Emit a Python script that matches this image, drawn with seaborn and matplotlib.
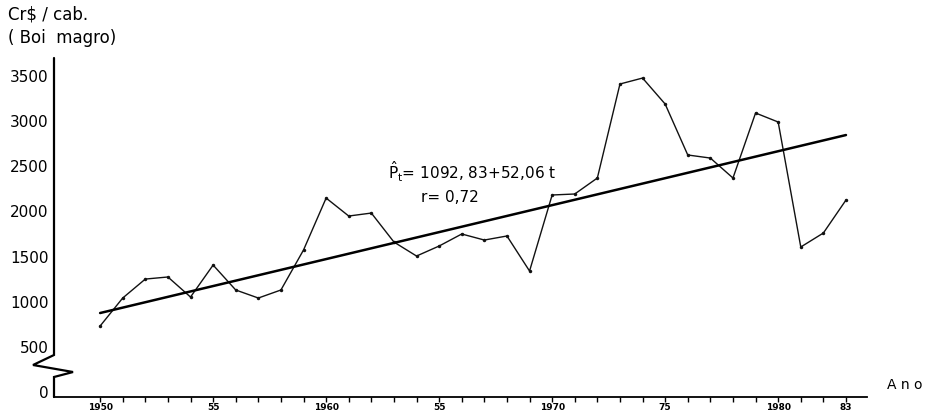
import numpy as np
import pandas as pd
import matplotlib
matplotlib.use("Agg")
import matplotlib.pyplot as plt
import seaborn as sns

# ---- data ----
years = list(range(1950, 1984))
prices = [731, 1041, 1251, 1274, 1052, 1406, 1130, 1041, 1130, 1573,
          2148, 1949, 1982, 1661, 1506, 1617, 1750, 1683, 1728, 1340,
          2182, 2193, 2370, 3411, 3477, 3189, 2625, 2591, 2370, 3090,
          2990, 1606, 1761, 2126]
trend_years = [1950, 1983]
trend_values = [875, 2846]
ytick_values = [0, 500, 1000, 1500, 2000, 2500, 3000, 3500]
xtick_years = [1950, 1955, 1960, 1965, 1970, 1975, 1980, 1983]
xtick_labels = ["1950", "55", "1960", "55", "1970", "75", "1980", "83"]

df = pd.DataFrame({"ano": years, "preco": prices})
trend = pd.DataFrame({"ano": trend_years, "preco": trend_values})

sns.set_theme(style="white")
plt.rcParams["font.family"] = ["DejaVu Sans"]
plt.rcParams["mathtext.fontset"] = "dejavusans"
plt.rcParams["text.color"] = "black"
plt.rcParams["xtick.color"] = "black"
plt.rcParams["ytick.color"] = "black"

W, H = 930, 413
fig = plt.figure(figsize=(W / 100, H / 100), dpi=100)
ax = fig.add_axes([54 / W, (H - 397) / H, 813 / W, 339 / H])

sns.lineplot(data=df, x="ano", y="preco", ax=ax, color="#111111", linewidth=1.0,
             marker="o", markersize=2.5, markeredgewidth=0, legend=False)
sns.lineplot(data=trend, x="ano", y="preco", ax=ax, color="black", linewidth=1.8,
             legend=False)

ax.set_xlim(1947.96, 1983.93)
ax.set_ylim(-55, 3699)

ax.set_yticks(ytick_values)
ax.set_yticklabels([str(v) for v in ytick_values], fontsize=11)
ax.tick_params(axis="y", length=0, pad=4, colors="black")

ax.set_xticks(xtick_years)
ax.set_xticklabels(xtick_labels, fontsize=6.5, fontweight="bold")
ax.set_xticks(years, minor=True)
ax.tick_params(axis="x", which="both", direction="out", length=3.5, width=1,
               color="black", pad=1, labelcolor="black", bottom=True)
ax.set_xlabel("")
ax.set_ylabel("")

for s in ["top", "right", "left"]:
    ax.spines[s].set_visible(False)
ax.spines["bottom"].set_color("black")
ax.spines["bottom"].set_linewidth(1.3)

# left axis with break symbol (axes fraction coordinates)
brk_x = [0, 0, -0.0258, 0.0234, 0, 0]
brk_y = [1.0, 0.1239, 0.0944, 0.0737, 0.0590, 0.0]
ax.plot(brk_x, brk_y, transform=ax.transAxes, color="black", linewidth=1.6,
        clip_on=False, solid_joinstyle="miter")

# annotations
fig.text(8 / W, 1 - 15 / H, r"Cr\$ / cab.", fontsize=12, va="center", ha="left")
fig.text(8 / W, 1 - 38 / H, "( Boi  magro)", fontsize=12, va="center", ha="left")
fig.text(887 / W, 1 - 385 / H, "A n o", fontsize=10, va="center", ha="left")
fig.text(388 / W, 1 - 172 / H, r"$\hat{\mathrm{P}}_{\mathrm{t}}$= 1092, 83+52,06 t",
         fontsize=11, va="center", ha="left")
fig.text(421 / W, 1 - 197 / H, r"r= 0,72", fontsize=11, va="center", ha="left")

fig.savefig("out.png", dpi=100, facecolor="white")
